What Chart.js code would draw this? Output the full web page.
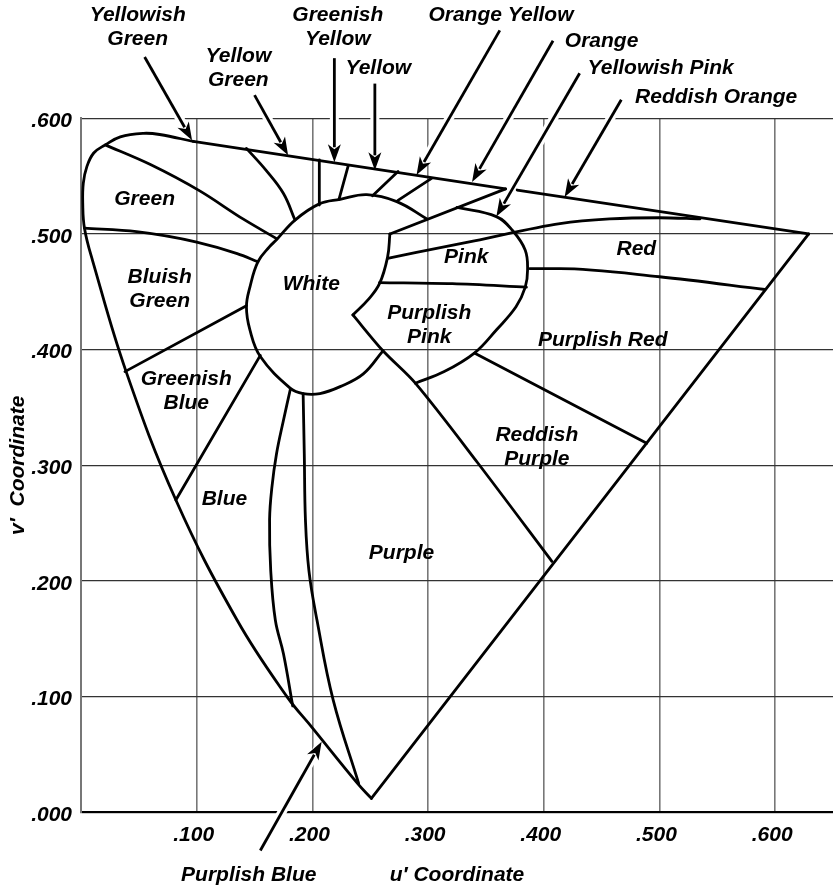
<!DOCTYPE html>
<html>
<head>
<meta charset="utf-8">
<style>
  html, body { margin: 0; padding: 0; background: #fff; }
</style>
<script src="https://cdn.jsdelivr.net/npm/chart.js@4.4.1/dist/chart.umd.min.js"></script>
</head>
<body>
<canvas id="cie" width="833" height="891"></canvas>
<script>
// boundary lines of the diagram, as [u', v'] pairs
const locusLeft = [[0.251,0.012],[0.239,0.025],[0.200,0.073],[0.178,0.100],[0.135,0.166],[0.082,0.270],
  [0.039,0.381],[0.010,0.477],[0.003,0.505],[0.0015,0.527],[0.002,0.544],[0.005,0.558],[0.011,0.570],
  [0.021,0.577],[0.034,0.584],[0.054,0.587],[0.068,0.586],[0.097,0.580]];
const locusTop = [[0.097,0.580],[0.367,0.539]];
const locusRight = [[0.377,0.538],[0.629,0.500]];
const purpleLine = [[0.629,0.500],[0.251,0.012]];

const whiteArc = [[0.299,0.513],[0.273,0.528],[0.247,0.534],[0.224,0.530],[0.206,0.526],[0.185,0.512],
  [0.169,0.495],[0.163,0.489],[0.153,0.476],[0.146,0.454],[0.143,0.437],[0.146,0.417],[0.155,0.394],
  [0.181,0.3665],[0.192,0.362],[0.2065,0.362],[0.224,0.368],[0.244,0.379],[0.261,0.399]];
const orangeLine = [[0.267,0.500],[0.367,0.539]];
const whiteNotch = [[0.267,0.500],[0.265,0.480],[0.258,0.457],[0.248,0.443],[0.235,0.430]];
const purpleEdge = [[0.235,0.430],[0.261,0.399],[0.289,0.371],[0.343,0.302],[0.407,0.217]];

const pinkArc = [[0.325,0.523],[0.359,0.515],[0.373,0.503],[0.384,0.486],[0.386,0.469],[0.384,0.454],
  [0.376,0.437],[0.359,0.417],[0.340,0.397],[0.314,0.381],[0.289,0.371]];
const redEdge = [[0.265,0.479],[0.340,0.494],[0.414,0.509],[0.457,0.513],[0.500,0.514],[0.535,0.513]];
const purplishPinkEdge = [[0.258,0.458],[0.321,0.457],[0.385,0.454]];
const purplishRedEdge = [[0.388,0.470],[0.414,0.470],[0.500,0.463],[0.591,0.452]];
const reddishPurpleEdge = [[0.340,0.397],[0.489,0.319]];

const greenTopEdge = [[0.021,0.577],[0.060,0.560],[0.103,0.537],[0.140,0.513],[0.169,0.496]];
const greenBottomEdge = [[0.003,0.505],[0.048,0.502],[0.100,0.493],[0.135,0.483],[0.153,0.476]];
const bluishGreenEdge = [[0.038,0.381],[0.143,0.438]];
const greenishBlueEdge = [[0.082,0.270],[0.155,0.395]];
const blueEdge = [[0.181,0.366],[0.175,0.339],[0.169,0.310],[0.165,0.281],[0.163,0.253],[0.164,0.209],
  [0.168,0.166],[0.175,0.137],[0.183,0.092]];
const purplishBlueEdge = [[0.192,0.362],[0.193,0.310],[0.194,0.253],[0.197,0.209],[0.204,0.166],
  [0.218,0.097],[0.240,0.025]];

const yellowGreenEdge = [[0.143,0.574],[0.160,0.555],[0.175,0.535],[0.185,0.512]];
const greenishYellowEdge = [[0.206,0.564],[0.206,0.525]];
const yellowEdge = [[0.231,0.559],[0.223,0.530]];
const orangeYellowEdge = [[0.274,0.554],[0.252,0.533]];
const orangeEdge = [[0.303,0.548],[0.274,0.529]];

// names inside the regions
const regionNames = ['Green', 'Bluish\nGreen', 'Greenish\nBlue', 'Blue', 'White', 'Pink', 'Purplish\nPink',
  'Red', 'Purplish Red', 'Reddish\nPurple', 'Purple'];
const regionAt = [[0.055,0.530],[0.068,0.4525],[0.091,0.364],[0.124,0.271],[0.199,0.457],[0.333,0.480],
  [0.301,0.421],[0.480,0.487],[0.451,0.408],[0.394,0.316],[0.277,0.224]];

// names with arrows
const arrowNames = ['Yellowish\nGreen', 'Yellow\nGreen', 'Greenish\nYellow', 'Yellow', 'Orange Yellow',
  'Orange', 'Yellowish Pink', 'Reddish Orange', 'Purplish Blue'];
const arrowNameAt = [[0.049,0.679],[0.136,0.643],[0.222,0.679],[0.257,0.643],[0.363,0.689],[0.450,0.667],
  [0.501,0.643],[0.549,0.618],[0.145,-0.054]];
const arrowTails = [[0.055,0.653],[0.150,0.620],[0.219,0.652],[0.254,0.630],[0.362,0.676],[0.408,0.667],
  [0.431,0.639],[0.467,0.616],[0.155,-0.033]];
const arrowTips = [[0.096,0.581],[0.179,0.568],[0.219,0.562],[0.254,0.555],[0.290,0.551],[0.338,0.545],
  [0.359,0.515],[0.418,0.532],[0.208,0.061]];

const FONT = "'Liberation Sans', Arial, Helvetica, sans-serif";
Chart.defaults.font.family = FONT;
Chart.defaults.color = '#000';

const curves = [
  [locusLeft, 0.4], [locusTop, 0], [locusRight, 0], [purpleLine, 0],
  [whiteArc, 0.4], [orangeLine, 0], [whiteNotch, 0.4], [purpleEdge, 0.3],
  [pinkArc, 0.4], [redEdge, 'mono'], [purplishPinkEdge, 'mono'], [purplishRedEdge, 'mono'], [reddishPurpleEdge, 0],
  [greenTopEdge, 'mono'], [greenBottomEdge, 'mono'], [bluishGreenEdge, 0], [greenishBlueEdge, 0],
  [blueEdge, 0.4], [purplishBlueEdge, 0.4],
  [yellowGreenEdge, 0.4], [greenishYellowEdge, 0], [yellowEdge, 0], [orangeYellowEdge, 0], [orangeEdge, 0]
];

const datasets = curves.map(([pts, t]) => ({
  data: pts.map(p => ({x: p[0], y: p[1]})),
  showLine: true,
  borderColor: '#000',
  borderWidth: 2.8,
  pointRadius: 0,
  pointHoverRadius: 0,
  tension: t === 'mono' ? 0.4 : t,
  cubicInterpolationMode: t === 'mono' ? 'monotone' : 'default',
  borderJoinStyle: 'round',
  borderCapStyle: 'round',
  clip: false
}));

const fmt = v => v.toFixed(3).slice(1);
const px = (chart, p) => [chart.scales.x.getPixelForValue(p[0]), chart.scales.y.getPixelForValue(p[1])];

function drawText(ctx, text, x, y) {
  const lines = text.split('\n');
  lines.forEach((s, i) => ctx.fillText(s, x, y + (i - (lines.length - 1) / 2) * 24));
}

const overlay = {
  id: 'overlay',
  beforeDatasetsDraw(chart) {
    // white halo under the arrow shafts
    const ctx = chart.ctx;
    ctx.save();
    ctx.strokeStyle = '#fff';
    ctx.lineWidth = 9;
    arrowTails.forEach((t, i) => {
      const a = px(chart, t), b = px(chart, arrowTips[i]);
      ctx.beginPath(); ctx.moveTo(a[0], a[1]); ctx.lineTo(b[0], b[1]); ctx.stroke();
    });
    ctx.restore();
  },
  afterDatasetsDraw(chart) {
    const ctx = chart.ctx;
    ctx.save();
    ctx.strokeStyle = '#000';
    ctx.fillStyle = '#000';
    ctx.lineWidth = 2.8;
    arrowTails.forEach((t, i) => {
      const a = px(chart, t), b = px(chart, arrowTips[i]);
      const ang = Math.atan2(b[1] - a[1], b[0] - a[0]);
      const len = 18, half = 6.5;
      const bx = b[0] - len * Math.cos(ang), by = b[1] - len * Math.sin(ang);
      ctx.beginPath(); ctx.moveTo(a[0], a[1]); ctx.lineTo(bx + 3 * Math.cos(ang), by + 3 * Math.sin(ang)); ctx.stroke();
      ctx.beginPath();
      ctx.moveTo(b[0], b[1]);
      ctx.lineTo(bx + half * Math.sin(ang), by - half * Math.cos(ang));
      ctx.lineTo(bx + 5 * Math.cos(ang), by + 5 * Math.sin(ang));
      ctx.lineTo(bx - half * Math.sin(ang), by + half * Math.cos(ang));
      ctx.closePath(); ctx.fill();
    });
    ctx.font = 'italic bold 21px ' + FONT;
    ctx.textAlign = 'center';
    ctx.textBaseline = 'middle';
    regionNames.forEach((s, i) => { const p = px(chart, regionAt[i]); drawText(ctx, s, p[0], p[1]); });
    arrowNames.forEach((s, i) => { const p = px(chart, arrowNameAt[i]); drawText(ctx, s, p[0], p[1]); });
    ctx.restore();
  }
};

new Chart(document.getElementById('cie'), {
  type: 'scatter',
  data: { datasets },
  options: {
    responsive: false,
    animation: false,
    events: [],
    layout: { padding: { top: 118.3, left: 0, right: 0, bottom: 0 } },
    plugins: { legend: { display: false }, tooltip: { enabled: false } },
    scales: {
      x: {
        type: 'linear', min: 0, max: 0.65,
        afterFit: s => { s.height = 78.7; },
        ticks: {
          stepSize: 0.1, includeBounds: false, padding: 10, labelOffset: -3,
          font: { size: 21, weight: 'bold', style: 'italic' },
          callback: v => Math.abs(v) < 1e-9 ? '' : fmt(v)
        },
        grid: { color: '#777', lineWidth: 1.6, drawTicks: false },
        border: { color: '#000', width: 2 },
        title: {
          display: true, text: 'u\u2032 Coordinate', padding: { top: 0, bottom: 3 },
          font: { size: 21, weight: 'bold', style: 'italic' }
        }
      },
      y: {
        type: 'linear', min: 0, max: 0.6,
        afterFit: s => { s.width = 81; },
        ticks: {
          stepSize: 0.1, padding: 9, labelOffset: 3,
          font: { size: 21, weight: 'bold', style: 'italic' },
          callback: v => fmt(v)
        },
        grid: { color: '#333', lineWidth: 1.2, drawTicks: false },
        border: { color: '#777', width: 2 },
        title: {
          display: true, text: 'v\u2032  Coordinate', padding: { top: 6, bottom: 0 },
          font: { size: 21, weight: 'bold', style: 'italic' }
        }
      }
    }
  },
  plugins: [overlay]
});
</script>
</body>
</html>
